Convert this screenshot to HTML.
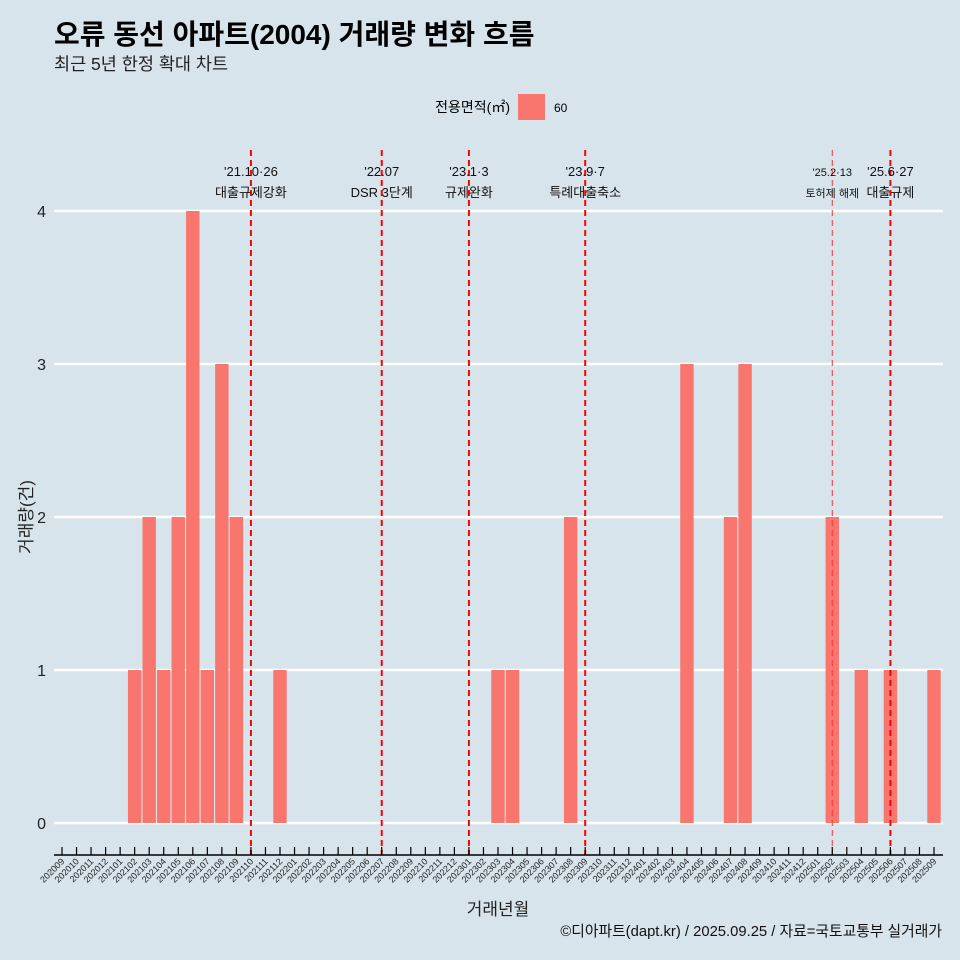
<!DOCTYPE html>
<html><head><meta charset="utf-8"><style>
body{margin:0;background:#d7e4eb;}
svg{display:block;font-family:"Liberation Sans","Noto Sans CJK KR",sans-serif;}
</style></head><body>
<svg id="c" width="960" height="960" viewBox="0 0 960 960">
<rect width="960" height="960" fill="#d7e4eb"/>
<text x="54" y="44" font-size="28" font-weight="bold" fill="#000">오류 동선 아파트(2004) 거래량 변화 흐름</text>
<text x="54" y="70" font-size="17.5" fill="#222">최근 5년 한정 확대 차트</text>
<g>
<text x="510" y="112" font-size="14" text-anchor="end">전용면적(㎡)</text>
<rect x="518" y="94" width="27" height="26" fill="#f8766d"/>
<text x="554" y="112" font-size="12">60</text>
</g>
<g id="grid"></g><g id="bars"></g><g id="vlines"></g><g id="axis"></g>
<text x="32" y="517" font-size="17" transform="rotate(-90 32 517)" text-anchor="middle" fill="#222">거래량(건)</text>
<text x="498" y="915" font-size="17" text-anchor="middle" fill="#222">거래년월</text>
<text x="942" y="936" font-size="14.8" text-anchor="end" fill="#111">©디아파트(dapt.kr) / 2025.09.25 / 자료=국토교통부 실거래가</text>
</svg>
<script>
const months=[];
for(let y=2020,m=9;!(y===2025&&m===10);){months.push(''+y+(m<10?'0':'')+m);m++;if(m>12){m=1;y++;}}
const barMonths=['202102','202103','202104','202105','202106','202107','202108','202109','202112','202303','202304','202308','202404','202407','202408','202502','202504','202506','202509'];
const barValues=[1,2,1,2,4,1,3,2,1,1,1,2,3,2,3,2,1,1,1];
const yTicks=[0,1,2,3,4];
const eventMonths=['202110','202207','202301','202309','202502','202506'];
const eventDates=["'21.10·26","'22.07","'23.1·3","'23.9·7","'25.2·13","'25.6·27"];
const eventLabels=['대출규제강화','DSR 3단계','규제완화','특례대출축소','토허제 해제','대출규제'];
const NS='http://www.w3.org/2000/svg';
const X=i=>62+i*(934-62)/(months.length-1);
const Y=v=>823-v*153;
function mk(t,a,p){const e=document.createElementNS(NS,t);for(const k in a)e.setAttribute(k,a[k]);document.getElementById(p).appendChild(e);return e;}
yTicks.forEach(v=>{
 const l=mk('line',{x1:54,x2:943,y1:Y(v),y2:Y(v),stroke:'#fff','stroke-width':2.4},'grid');
 
 
 const t=mk('text',{x:46,y:Y(v)+6,'font-size':16,'text-anchor':'end',fill:'#222'},'grid');
 t.textContent=v;
 
 
});
const bw=13.4;
barMonths.forEach((m,k)=>{
 const i=months.indexOf(m);
 const r=mk('rect',{x:X(i)-bw/2,y:Y(barValues[k]),width:bw,height:Y(0)-Y(barValues[k]),fill:'#f8766d'},'bars');
 
 
});
eventMonths.forEach((m,k)=>{
 const x=X(months.indexOf(m));
 const thin=k===4;
 const l=mk('line',{x1:x,x2:x,y1:150,y2:855,stroke:thin?'#ff3030':'#ff0000','stroke-width':thin?1:2,'stroke-dasharray':'6,4'},'vlines');
 
 
 const fs=thin?11:13;
 const t1=mk('text',{x:x,y:176,'font-size':fs,'text-anchor':'middle',fill:'#111'},'vlines');
 t1.textContent=eventDates[k];
 
 
 const t2=mk('text',{x:x,y:197,'font-size':fs,'text-anchor':'middle',fill:'#111'},'vlines');
 t2.textContent=eventLabels[k];
 
 
});
const ax=mk('line',{x1:54,x2:943,y1:855,y2:855,stroke:'#000','stroke-width':1.5},'axis');


months.forEach((m,i)=>{
 const x=X(i);
 const t=mk('line',{x1:x,x2:x,y1:847,y2:855,stroke:'#000','stroke-width':1.2},'axis');
 
 
 const lb=mk('text',{x:x+3,y:862,'font-size':9,'text-anchor':'end',transform:`rotate(-45 ${x+3} 862)`,fill:'#222'},'axis');
 lb.textContent=m;
 
 
});
</script>
</body></html>
